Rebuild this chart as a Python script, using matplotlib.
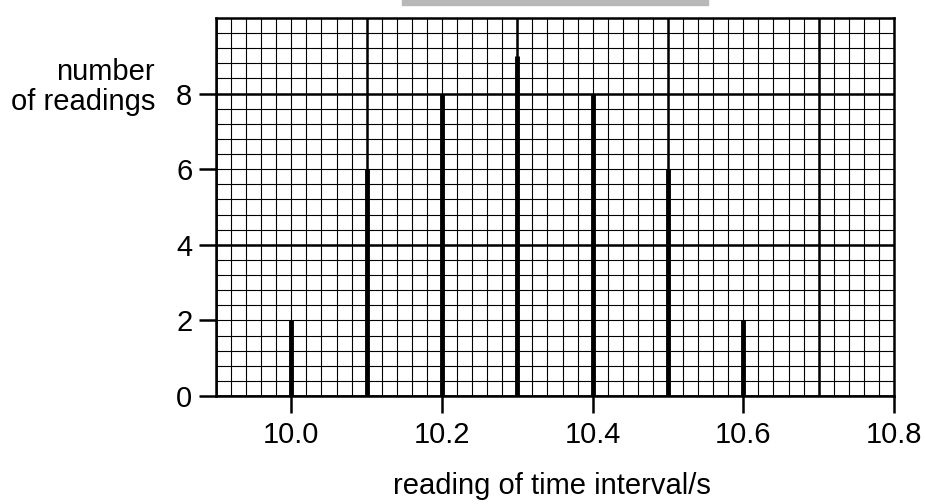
import numpy as np
import matplotlib.pyplot as plt
import matplotlib.patches as mpatches

# readings (time interval / s) and how often each came up
times = [10.0, 10.1, 10.2, 10.3, 10.4, 10.5, 10.6]
counts = [2, 6, 8, 9, 8, 6, 2]
xticks = [10.0, 10.2, 10.4, 10.6, 10.8]
yticks = [0, 2, 4, 6, 8]

plt.rcParams['font.family'] = ['Liberation Sans', 'DejaVu Sans']

fig = plt.figure(figsize=(9.25, 5.04), dpi=100)
ax = fig.add_axes([216 / 925, 108 / 504, 678 / 925, 378 / 504])

xmin, xmax = 9.9, 10.8
ymin, ymax = 0, 10
ax.set_xlim(xmin, xmax)
ax.set_ylim(ymin, ymax)

# graph paper: minor squares of 0.02 s x 0.4, bold every 10 squares
for xv in np.linspace(xmin, xmax, 46):
    ax.axvline(xv, color='black', lw=0.8, zorder=1)
for xv in np.arange(xmin, xmax + 0.01, 0.2):
    ax.axvline(xv, color='black', lw=1.8, zorder=1)
for yv in np.linspace(ymin, ymax, 26):
    ax.axhline(yv, color='black', lw=0.8, zorder=1)
for yv in np.arange(ymin, ymax + 0.1, 4):
    ax.axhline(yv, color='black', lw=1.8, zorder=1)

# the readings as thick vertical lines
ax.vlines(times, 0, counts, colors='black', lw=3.5, zorder=3)

ax.set_xticks(xticks)
ax.set_xticklabels(['%.1f' % t for t in xticks])
ax.set_yticks(yticks)
ax.tick_params(axis='x', direction='out', length=12, width=1.8, pad=6, labelsize=21)
ax.tick_params(axis='y', direction='out', length=12, width=1.8, pad=5, labelsize=21)
for s in ax.spines.values():
    s.set_linewidth(1.8)

fig.text(552 / 925, 1 - 486 / 504, 'reading of time interval/s', fontsize=21,
         ha='center', va='center')
fig.text(155 / 925, 1 - 87 / 504, 'number\nof readings', fontsize=21, ha='right',
         va='center', linespacing=1.05)

# grey strip from the scan at the top
fig.patches.append(mpatches.Rectangle((0.435, 0.99), 0.33, 0.012, transform=fig.transFigure,
                                      color='#b8b8b8', zorder=0))

fig.savefig('out.png', dpi=100)
